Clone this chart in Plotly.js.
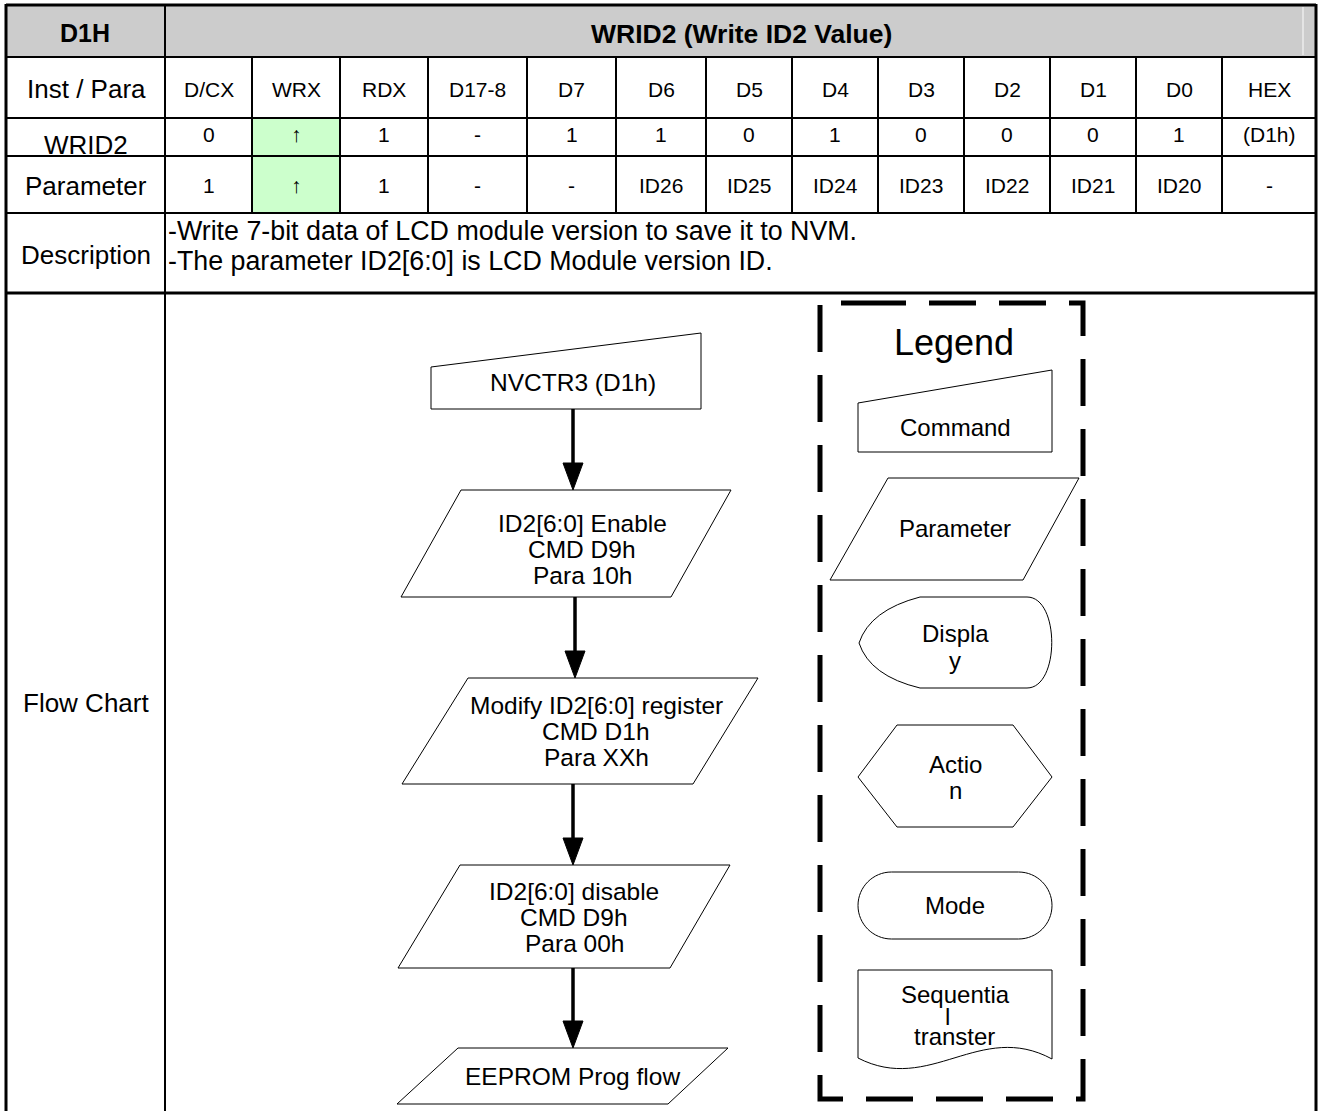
<!DOCTYPE html>
<html>
<head>
<meta charset="utf-8">
<script src="https://cdn.plot.ly/plotly-3.0.1.min.js"></script>
<style>
html,body{margin:0;padding:0;background:#fff;}
#chart{width:1320px;height:1111px;}
</style>
</head>
<body>
<div id="chart"></div>
<script>
// ---------- data ----------
const commandCode = 'D1H';
const commandTitle = 'WRID2 (Write ID2 Value)';
const rowLabels = ['Inst / Para', 'WRID2', 'Parameter', 'Description', 'Flow Chart'];
const colHeaders = ['D/CX', 'WRX', 'RDX', 'D17-8', 'D7', 'D6', 'D5', 'D4', 'D3', 'D2', 'D1', 'D0', 'HEX'];
const wrid2Values = ['0', '\u2191', '1', '-', '1', '1', '0', '1', '0', '0', '0', '1', '(D1h)'];
const paramValues = ['1', '\u2191', '1', '-', '-', 'ID26', 'ID25', 'ID24', 'ID23', 'ID22', 'ID21', 'ID20', '-'];
const highlightedColumn = 'WRX';
const descriptionLines = [
  '-Write 7-bit data of LCD module version to save it to NVM.',
  '-The parameter ID2[6:0] is LCD Module version ID.'
];
const flowSteps = [
  ['NVCTR3 (D1h)'],
  ['ID2[6:0] Enable', 'CMD D9h', 'Para 10h'],
  ['Modify ID2[6:0] register', 'CMD D1h', 'Para XXh'],
  ['ID2[6:0] disable', 'CMD D9h', 'Para 00h'],
  ['EEPROM Prog flow']
];
const legendTitle = 'Legend';
const legendItems = [
  ['Command'],
  ['Parameter'],
  ['Displa', 'y'],
  ['Actio', 'n'],
  ['Mode'],
  ['Sequentia', 'l', 'transter']
];

// ---------- layout constants ----------
const FONT = 'Liberation Sans, Arial, Helvetica, sans-serif';
const colX = [165, 252, 340, 428, 527, 616, 706, 792, 878, 964, 1050, 1136, 1222, 1316];
const rowY = [5, 57, 118, 156, 213, 293];
const L = 6, R = 1316, B = 1111, C1 = 165;

const shapes = [];
const ann = [];
function ln(x0, y0, x1, y1, w, c) {
  shapes.push({type: 'line', xref: 'x', yref: 'y', x0, y0, x1, y1, line: {color: c || '#000', width: w}});
}
function rect(x0, y0, x1, y1, fill) {
  shapes.push({type: 'rect', xref: 'x', yref: 'y', x0, y0, x1, y1, fillcolor: fill, line: {width: 0}, layer: 'below'});
}
function path(d, opts) {
  shapes.push(Object.assign({type: 'path', xref: 'x', yref: 'y', path: d, line: {color: '#000', width: 1}}, opts || {}));
}
function txt(x, y, t, size, opts) {
  ann.push(Object.assign({x, y, xref: 'x', yref: 'y', text: t, showarrow: false,
    xanchor: 'center', yanchor: 'middle', font: {family: FONT, size, color: '#000'}}, opts || {}));
}

// ---------- table fills ----------
rect(L, rowY[0], R, rowY[1], '#cccccc');
const hi = colHeaders.indexOf(highlightedColumn);
rect(colX[hi], rowY[2], colX[hi + 1], rowY[4], '#ccffcc');
ln(1303, rowY[0] + 2, 1303, rowY[1] - 2, 2, '#e4e4e4');

// ---------- table lines ----------
ln(L, rowY[0], R, rowY[0], 3);
for (let i = 1; i < rowY.length; i++) ln(L, rowY[i], R, rowY[i], i === rowY.length - 1 ? 3 : 2);
ln(L, rowY[0] - 1, L, B, 3);
ln(R, rowY[0] - 1, R, B, 3);
ln(C1, rowY[0], C1, B, 2);
for (let i = 1; i < colX.length - 1; i++) ln(colX[i], rowY[1], colX[i], rowY[4], 2);

// ---------- table text ----------
txt(85, 33, '<b>' + commandCode + '</b>', 25);
txt(741, 34, '<b>' + commandTitle + '</b>', 26.5);
const labelY = [89, 145, 186, 255, 703];
rowLabels.forEach((t, i) => txt(86, labelY[i], t, 26));
colHeaders.forEach((t, i) => {
  const cx = (colX[i] + colX[i + 1]) / 2;
  txt(cx, 89, t, 21);
  txt(cx, 134, wrid2Values[i], 21);
  txt(cx, 185, paramValues[i], 21);
});
descriptionLines.forEach((t, i) => txt(166, 231 + i * 30, t, 26.8, {xanchor: 'left'}));

// ---------- flow chart shapes ----------
path('M 431 367 L 701 333 L 701 409 L 431 409 Z');
path('M 461 490 L 731 490 L 671 597 L 401 597 Z');
path('M 468 678 L 758 678 L 693 784 L 402 784 Z');
path('M 460 865 L 730 865 L 670 968 L 398 968 Z');
path('M 458 1048 L 728 1048 L 668 1104 L 397 1104 Z');

const arrows = [[573, 409, 490], [575, 597, 678], [573, 784, 865], [573, 968, 1048]];
arrows.forEach(a => {
  const [x, y0, y1] = a;
  ln(x, y0, x, y1 - 26, 3.5);
  path(`M ${x - 10} ${y1 - 27} L ${x + 10} ${y1 - 27} L ${x} ${y1} Z`, {fillcolor: '#000', line: {color: '#000', width: 1}});
});

const stepPos = [[573, 382], [582, 549], [596, 731], [574, 917], [572, 1076]];
flowSteps.forEach((lines, i) => {
  const [cx, cy] = stepPos[i];
  lines.forEach((t, j) => txt(cx, cy + (j - (lines.length - 1) / 2) * 26, t, 24.5));
});

// ---------- legend ----------
path('M 859 303 L 1083 303 L 1083 1099 L 820 1099 L 820 303 Z', {line: {color: '#000', width: 5, dash: '47px,23px'}});
txt(954, 342, legendTitle, 36);
path('M 858 403 L 1052 370 L 1052 452 L 858 452 Z');
path('M 888 478 L 1079 478 L 1023 580 L 830 580 Z');
path('M 920 597 L 1027 597 C 1060 597 1060 688 1027 688 L 920 688 Q 870 676 859 643 Q 870 610 920 597 Z');
path('M 858 777 L 897 725 L 1013 725 L 1052 777 L 1013 827 L 897 827 Z');
path('M 891.5 872 L 1018.5 872 C 1037 872 1052 887 1052 905.5 C 1052 924 1037 939 1018.5 939 L 891.5 939 C 873 939 858 924 858 905.5 C 858 887 873 872 891.5 872 Z');
path('M 858 970 L 1052 970 L 1052 1059 C 980 1020 930 1095 858 1058 Z');

const legendTextPos = [
  [[955, 427]],
  [[955, 528]],
  [[955, 633], [955, 660]],
  [[955, 764], [955, 790]],
  [[955, 905]],
  [[955, 994], [947, 1016], [954, 1036]]
];
legendItems.forEach((lines, i) => {
  lines.forEach((t, j) => {
    const p = legendTextPos[i][j];
    txt(p[0], p[1], t, 24);
  });
});

const layout = {
  width: 1320, height: 1111,
  margin: {l: 0, r: 0, t: 0, b: 0, pad: 0},
  paper_bgcolor: '#fff', plot_bgcolor: '#fff',
  xaxis: {range: [0, 1320], visible: false, fixedrange: true},
  yaxis: {range: [1111, 0], visible: false, fixedrange: true},
  showlegend: false,
  shapes: shapes,
  annotations: ann
};
Plotly.newPlot('chart', [], layout, {displayModeBar: false, staticPlot: true});
</script>
</body>
</html>
